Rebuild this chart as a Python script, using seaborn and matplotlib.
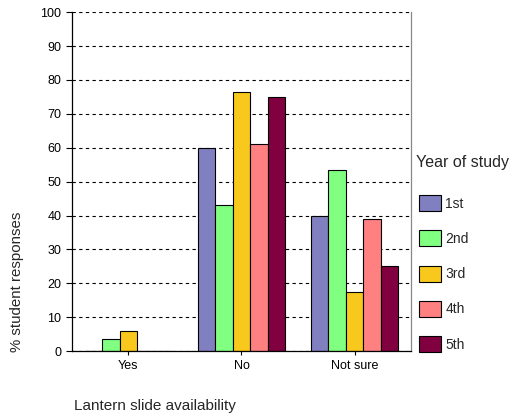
import matplotlib
matplotlib.use("Agg")
import matplotlib.pyplot as plt
import pandas as pd
import seaborn as sns

# values (% of student responses)
categories = ["Yes", "No", "Not sure"]
years = ["1st", "2nd", "3rd", "4th", "5th"]
year_1st = [0.0, 60.0, 40.0]
year_2nd = [3.5, 43.0, 53.5]
year_3rd = [6.0, 76.5, 17.5]
year_4th = [0.0, 61.0, 39.0]
year_5th = [0.0, 75.0, 25.0]
colours = ["#8080C0", "#80FF80", "#F8C81C", "#FF8080", "#800040"]

series = [year_1st, year_2nd, year_3rd, year_4th, year_5th]
rows = []
for yr, vals in zip(years, series):
    for cat, v in zip(categories, vals):
        rows.append({"answer": cat, "year": yr, "pct": v})
df = pd.DataFrame(rows)

sns.set_style("white")
plt.rcParams["font.family"] = ["Liberation Sans", "DejaVu Sans"]

fig = plt.figure(figsize=(5.21, 4.19), dpi=100)
ax = fig.add_axes([0.138, 0.162, 0.651, 0.809])

sns.barplot(
    data=df,
    x="answer",
    y="pct",
    hue="year",
    order=categories,
    hue_order=years,
    palette=colours,
    width=0.77,
    edgecolor="black",
    linewidth=0.8,
    saturation=1,
    errorbar=None,
    ax=ax,
)

ax.set_ylim(0, 100)
ax.set_xlim(-0.5, 2.5)
ax.set_yticks(range(0, 101, 10))
ax.yaxis.grid(True, color="black", ls=(0, (3, 3)), lw=0.8)
ax.set_axisbelow(True)
for side in ["left", "bottom", "right"]:
    ax.spines[side].set_visible(True)
    ax.spines[side].set_color("black")
    ax.spines[side].set_linewidth(0.9)
ax.spines["right"].set_color("#888888")
ax.spines["top"].set_visible(False)
ax.tick_params(axis="y", direction="out", length=4, width=0.8, labelsize=9, colors="black")
ax.tick_params(axis="x", direction="out", length=3, width=0.8, labelsize=9, colors="black")
ax.tick_params(axis="both", left=True, bottom=True)

ax.set_ylabel("% student responses", fontsize=10.8)
ax.yaxis.set_label_coords(-0.14, 0.204)
ax.set_xlabel("Lantern slide availability", fontsize=11)
ax.xaxis.set_label_coords(0.245, -0.14)

leg = ax.legend(
    loc="center left",
    bbox_to_anchor=(1.023, 0.2286),
    frameon=False,
    fontsize=10,
    handlelength=1.6,
    handleheight=1.4,
    labelspacing=1.38,
    handletextpad=0.3,
    borderaxespad=0,
    borderpad=0,
)
ax.text(1.016, (351 - 162) / 339, "Year of study", transform=ax.transAxes,
        fontsize=11.5, va="center", ha="left")

fig.savefig("out.png", dpi=100)
